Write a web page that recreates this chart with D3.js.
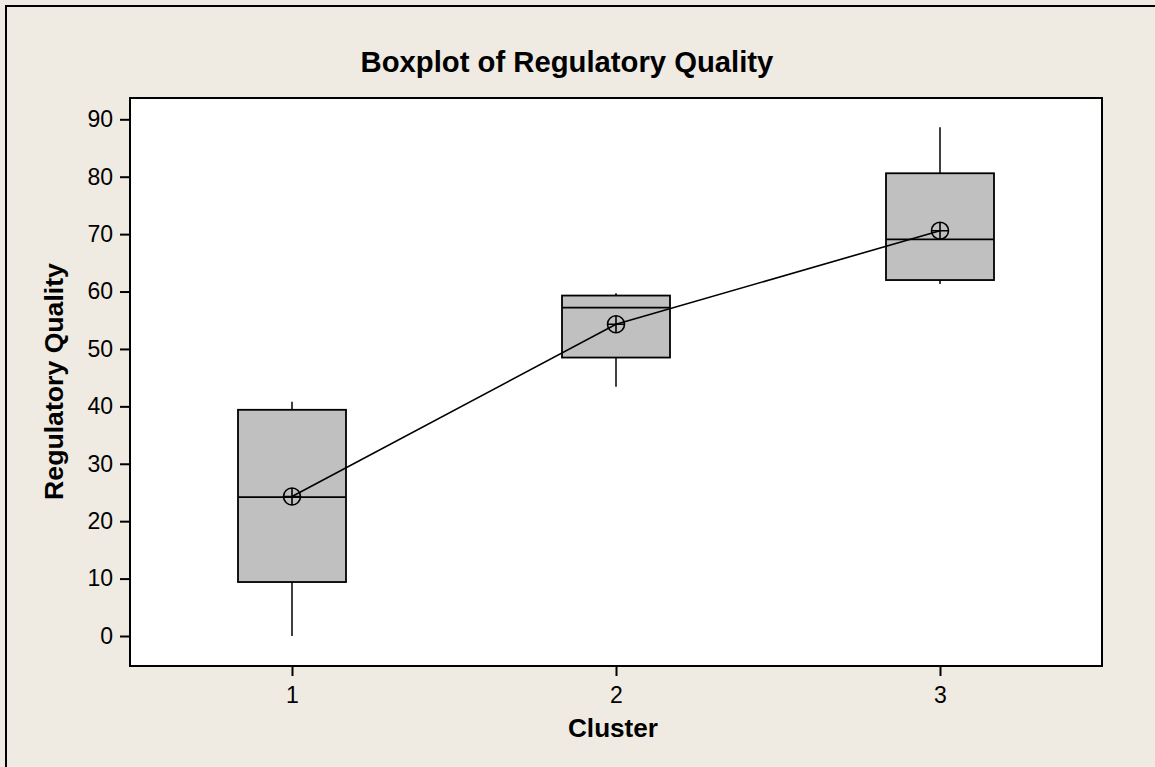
<!DOCTYPE html>
<html><head><meta charset="utf-8">
<script src="https://cdn.jsdelivr.net/npm/d3@7"></script>
<style>html,body{margin:0;padding:0;background:#efebe2;}svg{display:block;}</style>
</head><body>
<svg id="c" width="1155" height="767"></svg>
<script>
const categories = ["1", "2", "3"];
const whiskerLow = [0, 43.4, 61.3];
const q1 = [9.4, 48.5, 62.0];
const median = [24.2, 57.2, 69.1];
const q3 = [39.4, 59.3, 80.6];
const whiskerHigh = [40.8, 59.7, 88.6];
const means = [24.3, 54.3, 70.6];
const yTicks = [0, 10, 20, 30, 40, 50, 60, 70, 80, 90];
const title = "Boxplot of Regulatory Quality";
const xTitle = "Cluster";
const yTitle = "Regulatory Quality";

const svg = d3.select("#c");
const W = 1155, H = 767;
const m = {left: 130, top: 98, right: 1102, bottom: 666};
const font = "'Liberation Sans', Arial, sans-serif";

svg.append("rect").attr("width", W).attr("height", H).attr("fill", "#efebe2");
svg.append("path").attr("d", `M6,${H} V6 H${W}`).attr("fill", "none").attr("stroke", "#000").attr("stroke-width", 2);

const x = d3.scaleLinear().domain([0.5, 3.5]).range([m.left, m.right]);
const y = d3.scaleLinear().domain([0, 90]).range([636, 119.3]);

svg.append("rect").attr("x", m.left).attr("y", m.top).attr("width", m.right - m.left).attr("height", m.bottom - m.top)
  .attr("fill", "#fff").attr("stroke", "#000").attr("stroke-width", 2);

// y axis
const yAxis = svg.append("g").attr("transform", `translate(${m.left},0)`)
  .call(d3.axisLeft(y).tickValues(yTicks).tickSize(10).tickPadding(7).tickFormat(d3.format("d")));
yAxis.select(".domain").remove();
yAxis.selectAll("line").attr("stroke", "#000").attr("stroke-width", 2);
yAxis.selectAll("text").attr("font-family", font).attr("font-size", 23).attr("fill", "#000");

// x axis
const xAxis = svg.append("g").attr("transform", `translate(0,${m.bottom})`)
  .call(d3.axisBottom(x).tickValues([1, 2, 3]).tickSize(10).tickFormat((d, i) => categories[i]));
xAxis.select(".domain").remove();
xAxis.selectAll("line").attr("stroke", "#000").attr("stroke-width", 2);
xAxis.selectAll("text").attr("font-family", font).attr("font-size", 23).attr("fill", "#000")
  .attr("y", 37).attr("dy", 0);

const data = categories.map((c, i) => ({c, i, lo: whiskerLow[i], q1: q1[i], med: median[i], q3: q3[i], hi: whiskerHigh[i], mean: means[i]}));
const bw = 108;
const g = svg.append("g");
// whiskers
g.selectAll(".wu").data(data).join("line").attr("x1", d => x(d.i + 1)).attr("x2", d => x(d.i + 1))
  .attr("y1", d => y(d.hi)).attr("y2", d => y(d.q3)).attr("stroke", "#000").attr("stroke-width", 1.5);
g.selectAll(".wl").data(data).join("line").attr("x1", d => x(d.i + 1)).attr("x2", d => x(d.i + 1))
  .attr("y1", d => y(d.q1)).attr("y2", d => y(d.lo)).attr("stroke", "#000").attr("stroke-width", 1.5);
// boxes
g.selectAll(".box").data(data).join("rect").attr("x", d => x(d.i + 1) - bw / 2).attr("width", bw)
  .attr("y", d => y(d.q3)).attr("height", d => y(d.q1) - y(d.q3))
  .attr("fill", "#c0c0c0").attr("stroke", "#000").attr("stroke-width", 1.8);
g.selectAll(".med").data(data).join("line").attr("x1", d => x(d.i + 1) - bw / 2).attr("x2", d => x(d.i + 1) + bw / 2)
  .attr("y1", d => y(d.med)).attr("y2", d => y(d.med)).attr("stroke", "#000").attr("stroke-width", 1.8);

// mean connect line
g.append("path").datum(data).attr("d", d3.line().x(d => x(d.i + 1)).y(d => y(d.mean)))
  .attr("fill", "none").attr("stroke", "#000").attr("stroke-width", 1.6);
// mean symbols
const ms = g.selectAll(".mean").data(data).join("g").attr("transform", d => `translate(${x(d.i + 1)},${y(d.mean)})`);
ms.append("circle").attr("r", 8.5).attr("fill", "none").attr("stroke", "#000").attr("stroke-width", 1.6);
ms.append("path").attr("d", "M-8.5,0H8.5M0,-8.5V8.5").attr("stroke", "#000").attr("stroke-width", 1.6);

function fit(sel, target) {
  const w = sel.node().getComputedTextLength();
  const fs = +sel.attr("font-size");
  sel.attr("font-size", fs * target / w);
}
const t = svg.append("text").attr("x", 567).attr("y", 72).attr("text-anchor", "middle")
  .attr("font-family", font).attr("font-weight", "bold").attr("font-size", 28).text(title);
fit(t, 413);
const xt = svg.append("text").attr("x", 613).attr("y", 737).attr("text-anchor", "middle")
  .attr("font-family", font).attr("font-weight", "bold").attr("font-size", 26).text(xTitle);
fit(xt, 90);
const yt = svg.append("text").attr("transform", "translate(63,381.5) rotate(-90)").attr("text-anchor", "middle")
  .attr("font-family", font).attr("font-weight", "bold").attr("font-size", 26).text(yTitle);
fit(yt, 237);
</script>
</body></html>
